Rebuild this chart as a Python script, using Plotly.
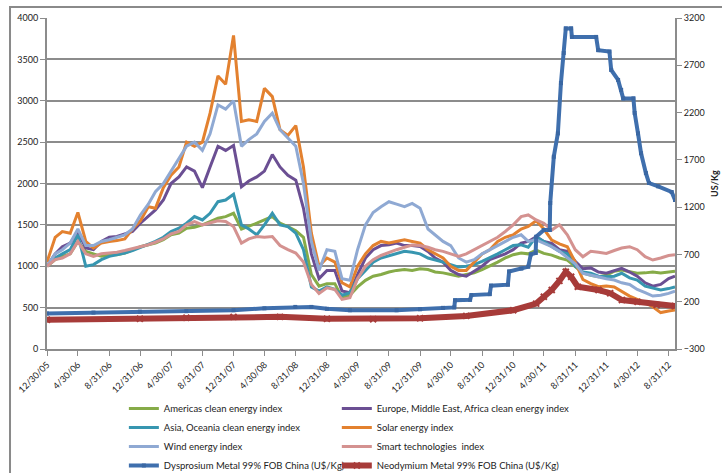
import plotly.graph_objects as go

# ---------------- data ----------------
dates = [
    "2005-12-30",
    "2006-01-31", "2006-02-28", "2006-03-31", "2006-04-30", "2006-05-31", "2006-06-30",
    "2006-07-31", "2006-08-31", "2006-09-30", "2006-10-31", "2006-11-30", "2006-12-31",
    "2007-01-31", "2007-02-28", "2007-03-31", "2007-04-30", "2007-05-31", "2007-06-30",
    "2007-07-31", "2007-08-31", "2007-09-30", "2007-10-31", "2007-11-30", "2007-12-31",
    "2008-01-31", "2008-02-29", "2008-03-31", "2008-04-30", "2008-05-31", "2008-06-30",
    "2008-07-31", "2008-08-31", "2008-09-30", "2008-10-31", "2008-11-30", "2008-12-31",
    "2009-01-31", "2009-02-28", "2009-03-31", "2009-04-30", "2009-05-31", "2009-06-30",
    "2009-07-31", "2009-08-31", "2009-09-30", "2009-10-31", "2009-11-30", "2009-12-31",
    "2010-01-31", "2010-02-28", "2010-03-31", "2010-04-30", "2010-05-31", "2010-06-30",
    "2010-07-31", "2010-08-31", "2010-09-30", "2010-10-31", "2010-11-30", "2010-12-31",
    "2011-01-31", "2011-02-28", "2011-03-31", "2011-04-30", "2011-05-31", "2011-06-30",
    "2011-07-31", "2011-08-31", "2011-09-30", "2011-10-31", "2011-11-30", "2011-12-31",
    "2012-01-31", "2012-02-29", "2012-03-31", "2012-04-30", "2012-05-31", "2012-06-30",
    "2012-07-31", "2012-08-31", "2012-09-25",
]

americas = [1000,
    1080, 1120, 1150, 1300, 1180, 1150, 1120, 1140, 1140, 1160, 1200, 1236,
    1260, 1280, 1320, 1380, 1400, 1460, 1470, 1500, 1540, 1580, 1600, 1640,
    1450, 1480, 1520, 1560, 1600, 1520, 1480, 1430, 1350, 900, 760, 790,
    790, 620, 650, 750, 830, 880, 900, 930, 950, 960, 950, 970,
    960, 930, 920, 900, 880, 900, 920, 960, 1000, 1050, 1100, 1140,
    1160, 1150, 1195, 1155, 1135, 1100, 1075, 1000, 920, 890, 873, 890,
    940, 954, 930, 915, 920, 930, 920, 930, 940]

europe = [1000,
    1150, 1236, 1280, 1420, 1220, 1200, 1300, 1350, 1360, 1390, 1420, 1520,
    1600, 1680, 1800, 2000, 2080, 2200, 2150, 1950, 2200, 2450, 2400, 2460,
    1960, 2030, 2080, 2150, 2350, 2200, 2100, 2040, 1700, 1150, 850, 950,
    950, 700, 680, 900, 1100, 1200, 1250, 1260, 1280, 1250, 1250, 1240,
    1180, 1100, 1050, 950, 900, 880, 940, 1000, 1080, 1120, 1150, 1200,
    1280, 1300, 1357, 1300, 1276, 1200, 1180, 1060, 970, 980, 930, 915,
    950, 975, 930, 880, 800, 760, 780, 850, 880]

asia = [1000,
    1100, 1150, 1200, 1380, 1000, 1020, 1080, 1120, 1140, 1160, 1190, 1230,
    1270, 1300, 1350, 1420, 1460, 1520, 1600, 1560, 1640, 1780, 1800, 1870,
    1500, 1450, 1380, 1500, 1640, 1500, 1480, 1400, 1200, 750, 700, 750,
    720, 650, 680, 850, 950, 1050, 1100, 1130, 1150, 1180, 1170, 1150,
    1100, 1080, 1050, 1020, 990, 1000, 1020, 1060, 1100, 1150, 1200, 1250,
    1260, 1230, 1357, 1300, 1236, 1180, 1150, 1000, 930, 915, 880, 873,
    880, 915, 860, 833, 760, 740, 713, 730, 750]

solar = [1050,
    1350, 1420, 1400, 1650, 1300, 1220, 1280, 1300, 1310, 1330, 1450, 1550,
    1720, 1700, 1950, 2100, 2200, 2500, 2450, 2500, 2850, 3300, 3200, 3790,
    2750, 2770, 2750, 3150, 3050, 2650, 2580, 2700, 2200, 1400, 1000, 1100,
    1050, 800, 750, 1000, 1150, 1250, 1300, 1280, 1300, 1320, 1300, 1280,
    1200, 1150, 1100, 1000, 950, 950, 1050, 1150, 1200, 1300, 1350, 1380,
    1450, 1480, 1550, 1450, 1316, 1270, 1236, 1050, 840, 790, 753, 760,
    750, 700, 640, 600, 560, 510, 440, 460, 470]

wind = [1000,
    1150, 1200, 1280, 1450, 1250, 1250, 1300, 1320, 1350, 1380, 1450, 1620,
    1750, 1900, 2000, 2150, 2300, 2450, 2500, 2400, 2600, 2950, 2900, 3000,
    2450, 2530, 2600, 2750, 2850, 2650, 2550, 2450, 2000, 1300, 950, 1200,
    1180, 850, 830, 1200, 1500, 1650, 1720, 1780, 1750, 1720, 1760, 1700,
    1450, 1380, 1300, 1250, 1100, 1050, 1080, 1150, 1200, 1250, 1300, 1350,
    1380, 1300, 1320, 1280, 1236, 1180, 1100, 1030, 915, 890, 873, 850,
    833, 800, 780, 720, 680, 640, 650, 672, 700]

smart = [1000,
    1080, 1100, 1150, 1300, 1150, 1120, 1150, 1160, 1170, 1190, 1210, 1236,
    1260, 1290, 1330, 1390, 1420, 1500, 1540, 1500, 1520, 1550, 1540, 1480,
    1280, 1330, 1360, 1350, 1360, 1250, 1200, 1160, 1050, 780, 672, 740,
    720, 600, 620, 850, 1000, 1080, 1130, 1170, 1200, 1230, 1256, 1250,
    1230, 1200, 1180, 1150, 1120, 1150, 1200, 1250, 1300, 1350, 1420, 1500,
    1600, 1620, 1560, 1520, 1437, 1500, 1380, 1200, 1115, 1180, 1170, 1155,
    1190, 1220, 1236, 1200, 1115, 1075, 1100, 1130, 1140]

dy_dates = [
    "2005-12-30", "2006-06-30", "2006-12-29", "2007-06-29", "2007-12-31", "2008-04-30",
    "2008-08-29", "2008-10-31", "2008-12-31", "2009-03-31", "2009-09-30", "2009-12-31",
    "2010-03-31", "2010-05-14", "2010-05-17", "2010-07-15", "2010-07-20", "2010-09-30",
    "2010-10-05", "2010-12-10", "2010-12-15", "2011-02-01", "2011-02-28", "2011-03-10",
    "2011-03-29", "2011-03-31", "2011-04-30", "2011-05-23", "2011-05-25", "2011-06-08",
    "2011-06-24", "2011-07-06", "2011-07-17", "2011-07-25", "2011-08-15", "2011-08-18",
    "2011-11-21", "2011-11-29", "2012-01-12", "2012-01-19", "2012-02-15", "2012-02-27",
    "2012-03-06", "2012-04-15", "2012-04-20", "2012-05-03", "2012-05-15", "2012-06-03",
    "2012-06-15", "2012-07-21", "2012-09-12", "2012-09-25",
]
dysprosium = [
    75, 85, 95, 100, 110, 130,
    145, 145, 125, 110, 110, 120,
    135, 140, 215, 220, 270, 280,
    370, 380, 520, 550, 570, 700,
    715, 887, 958, 958, 1243, 1733,
    1980, 2512, 2830, 3090, 3090, 3000,
    3000, 2860, 2845, 2650, 2545, 2440,
    2350, 2350, 2195, 1980, 1770, 1560,
    1455, 1420, 1360, 1275,
]

nd_dates = [
    "2005-12-30", "2006-12-29", "2007-06-29", "2007-12-31", "2008-06-30", "2008-12-31",
    "2009-06-30", "2009-12-31", "2010-06-30", "2010-12-31", "2011-03-31", "2011-04-30",
    "2011-05-31", "2011-06-30", "2011-07-25", "2011-08-15", "2011-09-10", "2011-11-30",
    "2012-01-15", "2012-03-01", "2012-05-01", "2012-07-15", "2012-09-25",
]
neodymium = [
    10, 20, 30, 40, 40, 20,
    15, 25, 50, 110, 180, 253,
    324, 420, 517, 464, 358, 324,
    290, 218, 200, 165, 155,
]

tick_dates = [
    "2005-12-30", "2006-04-30", "2006-08-31", "2006-12-31", "2007-04-30", "2007-08-31",
    "2007-12-31", "2008-04-30", "2008-08-31", "2008-12-31", "2009-04-30", "2009-08-31",
    "2009-12-31", "2010-04-30", "2010-08-31", "2010-12-31", "2011-04-30", "2011-08-31",
    "2011-12-31", "2012-04-30", "2012-08-31",
]
tick_labels = [
    "12/30/05", "4/30/06", "8/31/06", "12/31/06", "4/30/07", "8/31/07",
    "12/31/07", "4/30/08", "8/31/08", "12/31/08", "4/30/09", "8/31/09",
    "12/31/09", "4/30/10", "8/31/10", "12/31/10", "4/30/11", "8/31/11",
    "12/31/11", "4/30/12", "8/31/12",
]

# ---------------- figure ----------------
FONT = "Lato"
GRID = "#8c8c8c"
AX = "#8c8c8c"

fig = go.Figure()

# (name, values, colour, legend column)
index_series = [
    ("Americas clean energy index", americas, "#86ab48", "legend"),
    ("Europe, Middle East, Africa clean energy index", europe, "#6b4f93", "legend2"),
    ("Asia, Oceania clean energy index", asia, "#3796b0", "legend"),
    ("Solar energy index", solar, "#e3812f", "legend2"),
    ("Wind energy index", wind, "#8fa9d3", "legend"),
    ("Smart technologies  index", smart, "#d49290", "legend2"),
]
for name, vals, col, leg in index_series:
    fig.add_trace(go.Scatter(
        x=dates, y=vals, name=name, mode="lines",
        line=dict(color=col, width=3), legend=leg,
    ))

fig.add_trace(go.Scatter(
    x=dy_dates, y=dysprosium, name="Dysprosium Metal 99% FOB China (U$/Kg)",
    mode="lines+markers", line=dict(color="#3f6fad", width=4),
    marker=dict(symbol="square", size=4, color="#3a67a3"), yaxis="y2",
    legend="legend",
))
fig.add_trace(go.Scatter(
    x=nd_dates, y=neodymium, name="Neodymium Metal 99% FOB China (U$/Kg)",
    mode="lines+markers", line=dict(color="#a73b39", width=6),
    marker=dict(symbol="x-thin", size=6, line=dict(color="#a73b39", width=2)),
    yaxis="y2", legend="legend2",
))

legend_common = dict(
    orientation="v", y=-0.136, xanchor="left", yanchor="top",
    font=dict(family=FONT, size=9.5, color="#222222"),
    itemwidth=30, bgcolor="rgba(0,0,0,0)", traceorder="normal",
)

fig.update_layout(
    width=722, height=473,
    margin=dict(l=47, r=47, t=18, b=124, autoexpand=False),
    paper_bgcolor="white", plot_bgcolor="white",
    font=dict(family=FONT, size=9, color="#222222"),
    showlegend=True,
    legend=dict(x=0.1224, **legend_common),
    legend2=dict(x=0.4615, **legend_common),
    xaxis=dict(
        type="date", range=["2005-12-30", "2012-09-25"],
        tickmode="array", tickvals=tick_dates, ticktext=tick_labels,
        tickangle=-45, ticks="outside", ticklen=5, tickcolor=AX,
        showline=True, linecolor=AX, linewidth=2, showgrid=False,
        zeroline=False, tickfont=dict(size=9), automargin=False,
    ),
    yaxis=dict(
        range=[0, 4000], dtick=500, tick0=0, ticks="outside", ticklen=5,
        tickcolor=AX, showline=True, linecolor=AX, linewidth=2,
        showgrid=True, gridcolor=GRID, gridwidth=1.5, zeroline=False,
        tickfont=dict(size=9), automargin=False,
    ),
    yaxis2=dict(
        range=[-300, 3200], dtick=500, tick0=-300, overlaying="y", side="right",
        ticks="outside", ticklen=5, tickcolor=AX, showline=True, linecolor=AX,
        linewidth=2, showgrid=False, zeroline=False, tickfont=dict(size=9),
        title=dict(text="<b>US/Kg</b>", font=dict(size=9), standoff=8),
        automargin=False,
    ),
    shapes=[dict(
        type="rect", xref="paper", yref="paper",
        x0=-0.0589, x1=1.09, y0=-0.45, y1=1.0332,
        line=dict(color="#8a8a8a", width=2), fillcolor="rgba(0,0,0,0)", layer="below",
    )],
)

fig.write_html(
    "out.html",
    config={"displayModeBar": False},
    post_script="document.body.style.margin='0';document.body.style.padding='0';",
)
